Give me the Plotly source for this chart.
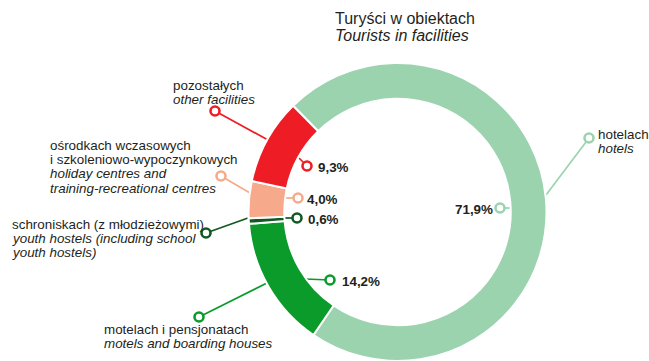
import plotly.graph_objects as go

W, H = 649, 361

# Share of tourists by type of accommodation (%), clockwise from the top-left
categories_pl = ["hotelach", "motelach i pensjonatach", "schroniskach (z młodzieżowymi)",
                 "ośrodkach wczasowych i szkoleniowo-wypoczynkowych", "pozostałych"]
categories_en = ["hotels", "motels and boarding houses",
                 "youth hostels (including school youth hostels)",
                 "holiday centres and training-recreational centres", "other facilities"]
shares = [71.9, 14.2, 0.6, 4.0, 9.3]
colors = ["#9CD3AF", "#0A9B2B", "#0F5A22", "#F7A98B", "#EE1D25"]

FONT = "Liberation Sans, Arial, Helvetica, sans-serif"
TXT = "#231F20"

# donut geometry in pixels
CX, CY, R = 397.5, 212.0, 149.0

fig = go.Figure()

fig.add_trace(go.Pie(
    values=shares,
    labels=categories_en,
    marker=dict(colors=colors, line=dict(color="white", width=2)),
    hole=0.76,
    sort=False,
    direction="clockwise",
    rotation=-44.5,
    textinfo="none",
    hoverinfo="label+percent",
    showlegend=False,
    domain=dict(x=[(CX - R) / W, (CX + R) / W], y=[0, 2 * R / H]),
))


def fmt(v):
    return f"{v:.1f}%".replace(".", ",")


# leader lines: (start on ring, circle position) for each category label
outer_leaders = [
    ((546, 195), (589, 138)),
    ((267, 283), (199, 317)),
    ((248, 218), (206, 233)),
    ((250, 193), (221, 176)),
    ((268, 140), (215, 111)),
]
# value leaders: (start on ring, circle position)
value_leaders = [
    ((510, 208), (500, 208)),
    ((305, 279), (330, 280)),
    ((285, 218), (297, 218)),
    ((285, 198), (298, 198)),
    ((299, 158), (307, 166)),
]

for i, col in enumerate(colors):
    for (a, b) in (outer_leaders[i], value_leaders[i]):
        fig.add_trace(go.Scatter(
            x=[a[0], b[0]], y=[a[1], b[1]], mode="lines",
            line=dict(color=col, width=1.7), hoverinfo="skip", showlegend=False,
            xaxis="x", yaxis="y"))
        fig.add_trace(go.Scatter(
            x=[b[0]], y=[b[1]], mode="markers",
            marker=dict(symbol="circle", size=9, color="white",
                        line=dict(color=col, width=2.6)),
            hoverinfo="skip", showlegend=False, xaxis="x", yaxis="y"))

annotations = []


def txt(x, y, s, italic=False, bold=False, size=13.4, anchor="left"):
    if italic:
        s = f"<i>{s}</i>"
    if bold:
        s = f"<b>{s}</b>"
    annotations.append(dict(
        x=x, y=y, xref="x", yref="y", text=s, showarrow=False,
        xanchor=anchor, yanchor="middle",
        font=dict(family=FONT, size=size, color=TXT)))


# title
txt(333, 18, "Turyści w obiektach", size=16)
txt(333, 35, "Tourists in facilities", italic=True, size=16)

# category labels
LS = 14.4
txt(596, 134, "hotelach")
txt(596, 134 + LS, "hotels", italic=True)

txt(102, 329, "motelach i pensjonatach")
txt(102, 329 + LS, "motels and boarding houses", italic=True)

txt(10, 224, "schroniskach (z młodzieżowymi)")
txt(10, 224 + LS, "youth hostels (including school", italic=True)
txt(10, 224 + 2 * LS, "youth hostels)", italic=True)

txt(48, 145, "ośrodkach wczasowych")
txt(48, 145 + LS, "i szkoleniowo-wypoczynkowych")
txt(48, 145 + 2 * LS, "holiday centres and", italic=True)
txt(48, 145 + 3 * LS, "training-recreational centres", italic=True)

txt(171, 85, "pozostałych")
txt(171, 85 + LS, "other facilities", italic=True)

# value labels
txt(495, 209, fmt(shares[0]), bold=True, anchor="right")
txt(340, 281, fmt(shares[1]), bold=True)
txt(306, 219, fmt(shares[2]), bold=True)
txt(305, 199, fmt(shares[3]), bold=True)
txt(316, 167, fmt(shares[4]), bold=True)

fig.update_layout(
    width=W, height=H,
    margin=dict(l=0, r=0, t=0, b=0),
    paper_bgcolor="white", plot_bgcolor="rgba(0,0,0,0)",
    xaxis=dict(range=[0, W], domain=[0, 1], visible=False, fixedrange=True),
    yaxis=dict(range=[H, 0], domain=[0, 1], visible=False, fixedrange=True),
    annotations=annotations,
)

fig.write_html("out.html")
